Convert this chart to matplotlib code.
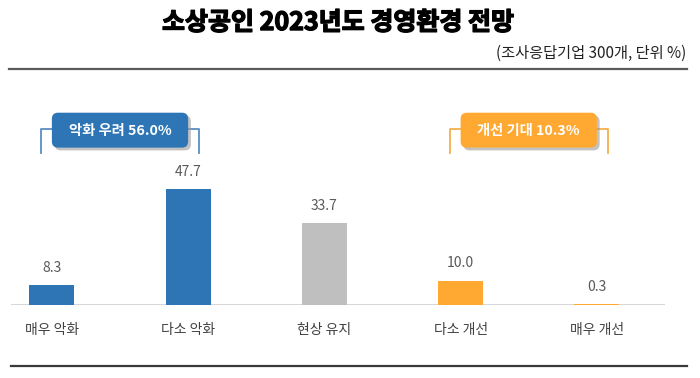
import matplotlib
matplotlib.use("Agg")
import matplotlib.pyplot as plt
from matplotlib.patches import FancyBboxPatch
from matplotlib.lines import Line2D
import matplotlib.patheffects as pe

plt.rcParams['font.family'] = ['Noto Sans CJK KR', 'DejaVu Sans']

# ---- data ----
categories = ['매우 악화', '다소 악화', '현상 유지', '다소 개선', '매우 개선']
values = [8.3, 47.7, 33.7, 10.0, 0.3]
bar_colors = ['#2E75B6', '#2E75B6', '#BFBFBF', '#FFA933', '#FFA933']
title = '소상공인 2023년도 경영환경 전망'
subtitle = '(조사응답기업 300개, 단위 %)'
groups = [
    {'label': '악화 우려', 'idx': [0, 1], 'color': '#2E75B6', 'line': '#5B8DC4'},
    {'label': '개선 기대', 'idx': [3, 4], 'color': '#FFA933', 'line': '#F5B04A'},
]

W, H = 700, 378
fig = plt.figure(figsize=(W / 100, H / 100), dpi=100)
fig.patch.set_facecolor('white')


def fx(px):
    return px / W


def fy(py):
    return 1 - py / H


# axes placed by pixel geometry
ax_left, ax_right = 11, 665
ax_base, ax_top = 305, 111
ax = fig.add_axes([fx(ax_left), fy(ax_base), fx(ax_right - ax_left), (ax_base - ax_top) / H])
ax.set_xlim(-0.3, 4.5)
ax.set_ylim(0, 80)
ax.axis('off')

x = list(range(len(categories)))
ax.bar(x, values, width=0.33, color=bar_colors, zorder=2)
ax.axhline(0, color='#D0D0D0', lw=1.2, zorder=1)

for xi, v, c in zip(x, values, categories):
    ax.annotate(f'{v:.1f}', (xi, v), xytext=(0, 12.5), textcoords='offset points',
                ha='center', va='center', fontsize=10, color='#595959')
    ax.annotate(c, (xi, 0), xytext=(0, -18), textcoords='offset points',
                ha='center', va='center', fontsize=10, color='#404040')

# group boxes with brackets
px_per_x = (ax_right - ax_left) / 4.8
px_per_y = (ax_base - ax_top) / 80
aspect = px_per_x / px_per_y
for g in groups:
    i0, i1 = g['idx'][0], g['idx'][-1]
    total = sum(values[i] for i in g['idx'])
    b_y0, b_y1 = 62.8, 72.7
    bl, br = i0 - 0.08, i1 + 0.08
    ax.add_line(Line2D([bl, bl, i0], [b_y0, b_y1, b_y1], color=g['line'], lw=1.3,
                       clip_on=False, zorder=3))
    ax.add_line(Line2D([i1, br, br], [b_y1, b_y1, b_y0], color=g['line'], lw=1.3,
                       clip_on=False, zorder=3))
    box = FancyBboxPatch((i0, 64.9), i1 - i0, 14.4,
                         boxstyle='round,pad=0,rounding_size=0.045',
                         mutation_aspect=aspect, facecolor=g['color'],
                         edgecolor='none', clip_on=False, zorder=4)
    box.set_path_effects([pe.SimplePatchShadow(offset=(2, -2), shadow_rgbFace='#9a9a9a', alpha=0.6),
                          pe.Normal()])
    ax.add_patch(box)
    ax.text((i0 + i1) / 2, 71.6, f"{g['label']} {total:.1f}%", ha='center', va='center',
            fontsize=10.3, fontweight='bold', color='white', zorder=5)

# title, subtitle, rules
t = fig.text(fx(338), fy(23), title, ha='center', va='center', fontsize=18,
             fontweight='black', color='black')
t.set_path_effects([pe.withStroke(linewidth=1.0, foreground='black')])
fig.text(fx(686), fy(53), subtitle, ha='right', va='center', fontsize=11, color='#222222')
fig.add_artist(Line2D([fx(9), fx(687)], [fy(68.5), fy(68.5)], color='#5A5A5A', lw=1.6))
fig.add_artist(Line2D([fx(11), fx(687)], [fy(366), fy(366)], color='#3A3A3A', lw=1.6))

fig.savefig('out.png', dpi=100, facecolor='white')
